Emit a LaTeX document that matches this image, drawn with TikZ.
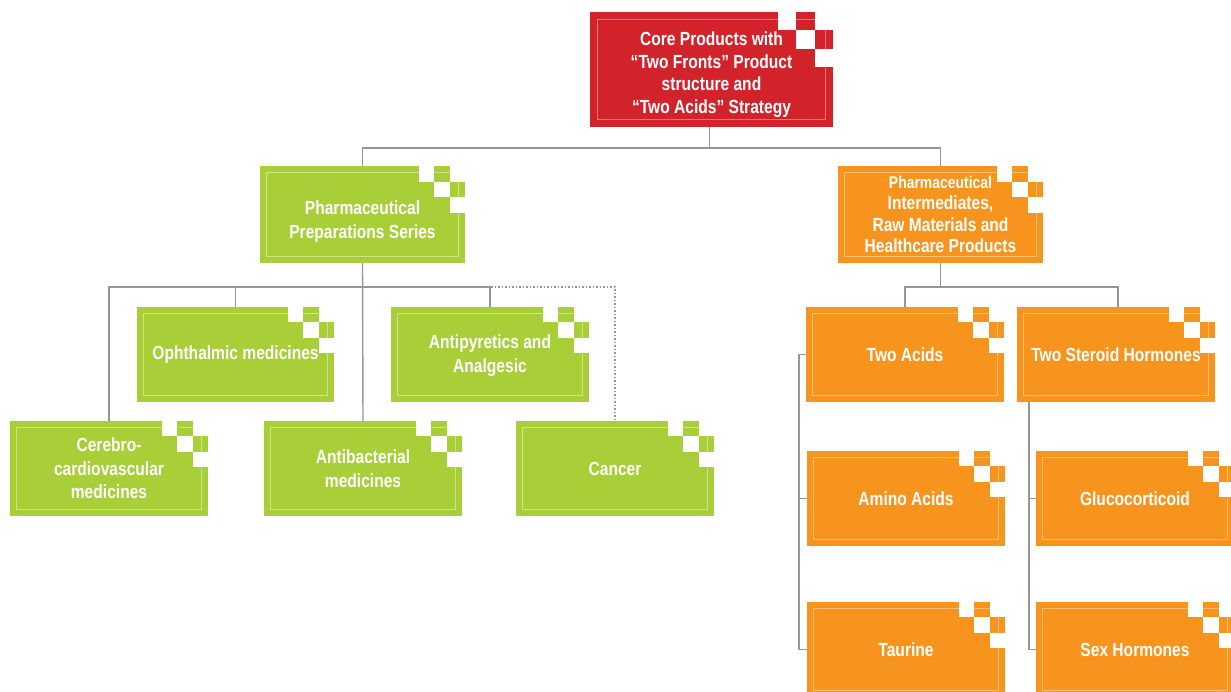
\documentclass[tikz,border=0pt]{standalone}
\usepackage{fontspec}
\setmainfont{Liberation Sans}[FakeStretch=0.82]
\usetikzlibrary{calc}
\definecolor{cred}{RGB}{210,35,42}
\definecolor{cgreen}{RGB}{168,206,56}
\definecolor{corange}{RGB}{247,148,30}
\definecolor{credl}{RGB}{232,120,125}
\definecolor{cgreenl}{RGB}{205,228,135}
\definecolor{corangel}{RGB}{251,190,115}
\definecolor{cline}{RGB}{150,150,150}
% [text options], name, cx, cy, w, h, colour style, cell, text
\newcommand\obox[9][]{%
  \pgfmathsetmacro\ins{0.43*#8}%
  \node[obx,#7,minimum width=#5pt,minimum height=#6pt] (#2) at (#3,#4) {};
  \draw[#7line] ([shift={(\ins,\ins)}]#2.north west) rectangle ([shift={(-\ins,-\ins)}]#2.south east);
  \fill[white] ([shift={(-3*#8,0)}]#2.north east) rectangle ++(#8,#8);
  \fill[white] ([shift={(-#8,0)}]#2.north east) rectangle ++(#8,#8);
  \fill[white] ([shift={(-2*#8,#8)}]#2.north east) rectangle ++(#8,#8);
  \fill[white] ([shift={(-#8,2*#8)}]#2.north east) rectangle ++(#8,#8);
  \node[txt,#1] (#2t) at (#2.center) {#9};
}
\begin{document}
\begin{tikzpicture}[x=1pt,y=-1pt,
  obx/.style={inner sep=0pt,outer sep=0pt},
  txt/.style={inner sep=0pt,outer sep=0pt,text=white,align=center,
    font=\bfseries\fontsize{19}{23.5}\selectfont},
  rd/.style={fill=cred}, rdline/.style={draw=credl,line width=1pt},
  gr/.style={fill=cgreen}, grline/.style={draw=cgreenl,line width=1pt},
  og/.style={fill=corange}, ogline/.style={draw=corangel,line width=1pt},
  conn/.style={draw=cline,line width=1.4pt},
  dots/.style={draw=cline,line width=1.2pt,dash pattern=on 1.5pt off 2pt}]
\useasboundingbox (0,0) rectangle (1231,691);

\obox[yshift=-5pt,font=\bfseries\fontsize{19}{22.7}\selectfont]{core}{711.5}{69.5}{243}{115}{rd}{18.3}{Core Products with\\“Two Fronts” Product\\structure and\\“Two Acids” Strategy}
\obox[yshift=-7pt]{pp}{362.5}{214.5}{205}{97}{gr}{15.5}{Pharmaceutical\\Preparations Series}
\obox[font=\bfseries\fontsize{19}{21.2}\selectfont]{inter}{940.5}{214.5}{205}{97}{og}{15.5}{{\fontsize{17}{21.2}\selectfont Pharmaceutical}\\Intermediates,\\Raw Materials and\\Healthcare Products}
\obox{oph}{235.5}{354.5}{197}{95}{gr}{15.3}{Ophthalmic medicines}
\obox[yshift=-1pt]{anti}{490}{354.5}{198}{95}{gr}{15.3}{Antipyretics and\\Analgesic}
\obox{cereb}{109}{468.5}{198}{95}{gr}{15.3}{Cerebro-\\cardiovascular\\medicines}
\obox{antib}{363}{468.5}{198}{95}{gr}{15.3}{Antibacterial\\medicines}
\obox{cancer}{615}{468.5}{198}{95}{gr}{15.3}{Cancer}
\obox{twoacids}{905}{354.5}{198}{95}{og}{15.3}{Two Acids}
\obox{steroid}{1116}{354.5}{198}{95}{og}{15.3}{Two Steroid Hormones}
\obox{amino}{906}{498.5}{198}{95}{og}{15.3}{Amino Acids}
\obox{gluco}{1135}{498.5}{198}{95}{og}{15.3}{Glucocorticoid}
\obox{taurine}{906}{649.5}{198}{95}{og}{15.3}{Taurine}
\obox{sex}{1135}{649.5}{198}{95}{og}{15.3}{Sex Hormones}

% connectors
\path (core.south) ++(-2,0) coordinate (cs);
\path (cs) ++(0,21) coordinate (cj);
\draw[conn] (cs) -- (cj) -| (pp.north);
\draw[conn] (cj) -| (inter.north);

\path (pp.south) ++(0,24) coordinate (pj);
\draw[conn] (pp.south) -- (antib.north);
\draw[conn] (pj) -| (cereb.north);
\draw[conn] (pj) -| (oph.north);
\draw[conn] (pj) -| (anti.north);
\draw[dots] ([xshift=1pt]pj -| anti.north) -| (cancer.north);

\path (inter.south) ++(0,24) coordinate (ij);
\draw[conn] (inter.south) -- (ij);
\draw[conn] (ij) -| (twoacids.north);
\draw[conn] (ij) -| ([xshift=2pt]steroid.north);

\path (twoacids.west) ++(-7,0) coordinate (aj);
\draw[conn] (twoacids.west) -- (aj) |- (taurine.west);
\draw[conn] (aj) |- (amino.west);

\coordinate (sj) at ([xshift=12pt]steroid.south west);
\draw[conn] (sj) |- (sex.west);
\draw[conn] (sj) |- (gluco.west);
\end{tikzpicture}
\end{document}
